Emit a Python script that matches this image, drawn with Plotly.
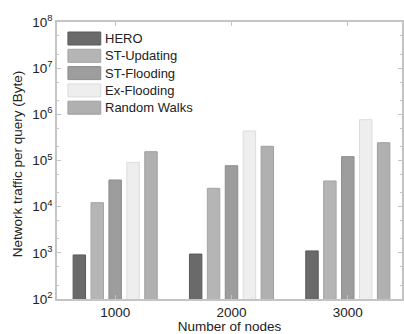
import plotly.graph_objects as go

# Network traffic per query (bytes) for each scheme and network size
nodes = [1000, 2000, 3000]
series_names = ["HERO", "ST-Updating", "ST-Flooding", "Ex-Flooding", "Random Walks"]
hero = [900, 940, 1100]
st_updating = [12200, 25000, 36000]
st_flooding = [37800, 77000, 121000]
ex_flooding = [91000, 435000, 766000]
random_walks = [155000, 203000, 243000]
y_tick_exponents = [2, 3, 4, 5, 6, 7, 8]
x_tick_labels = ["1000", "2000", "3000"]

series_values = [hero, st_updating, st_flooding, ex_flooding, random_walks]
fills = ["#6a6a6a", "#b5b5b5", "#9d9d9d", "#eeeeee", "#b0b0b0"]
edges = ["#5a5a5a", "#a4a4a4", "#8c8c8c", "#dcdcdc", "#9f9f9f"]

W, H = 404, 334
ML, MT, MB = 57, 22, 35
plot_w = W - ML
plot_h = H - MT - MB

bar_w = 107
pitch = 154

fig = go.Figure()
for i, (name, vals) in enumerate(zip(series_names, series_values)):
    fig.add_trace(go.Bar(
        x=nodes, y=vals, name=name,
        width=bar_w, offset=(i - 2) * pitch - bar_w / 2,
        marker=dict(color=fills[i], line=dict(color=edges[i], width=1)),
        showlegend=False,
    ))

# Legend drawn as wide patches with labels, in pixel-derived paper coords
def px_x(px):
    return (px - ML) / plot_w

def px_y(py):
    return (H - MB - py) / plot_h

font_family = "Liberation Sans, Arial, sans-serif"
text_color = "#222222"
fs = 13.5

shapes = []
annotations = []
row_centers = [38.5, 55.8, 73.1, 90.4, 107.7]
for i, name in enumerate(series_names):
    cy = row_centers[i]
    shapes.append(dict(
        type="rect", xref="paper", yref="paper",
        x0=px_x(68), x1=px_x(101), y0=px_y(cy + 6.5), y1=px_y(cy - 6.5),
        fillcolor=fills[i], line=dict(color=edges[i], width=1), layer="above",
    ))
    annotations.append(dict(
        xref="paper", yref="paper", x=px_x(103), y=px_y(cy),
        text=name, showarrow=False, xanchor="left", yanchor="middle",
        font=dict(family=font_family, size=13, color=text_color),
    ))

# Y-axis title placed as a rotated label
annotations.append(dict(
    xref="paper", yref="paper", x=px_x(17), y=px_y(164),
    text="Network traffic per query (Byte)", textangle=-90, showarrow=False,
    xanchor="center", yanchor="middle",
    font=dict(family=font_family, size=fs, color=text_color),
))

axis_color = "#c4c4c4"

fig.update_layout(
    width=W, height=H,
    margin=dict(l=ML, r=0, t=MT, b=MB),
    paper_bgcolor="white", plot_bgcolor="white",
    barmode="overlay",
    font=dict(family=font_family, size=fs, color=text_color),
    shapes=shapes,
    annotations=annotations,
    xaxis=dict(
        range=[500, 500 + plot_w / 117 * 1000],
        tickvals=nodes, ticktext=x_tick_labels,
        ticks="inside", ticklen=4, tickcolor=axis_color,
        showline=True, linecolor=axis_color, linewidth=1.5, mirror="ticks",
        showgrid=False, zeroline=False,
        tickfont=dict(size=fs, color=text_color),
        title=dict(text="Number of nodes", font=dict(size=fs, color=text_color), standoff=1),
    ),
    yaxis=dict(
        type="log", range=[2, 8],
        tickvals=[10 ** e for e in y_tick_exponents],
        ticktext=[f"10<sup>{e}</sup>" for e in y_tick_exponents],
        ticks="inside", ticklen=4, tickcolor=axis_color,
        minor=dict(ticks="inside", ticklen=2, tickcolor=axis_color, showgrid=False),
        showline=True, linecolor=axis_color, linewidth=1.5, mirror="ticks",
        showgrid=False, zeroline=False,
        tickfont=dict(size=fs, color=text_color),
    ),
)

fig.write_html("out.html")
